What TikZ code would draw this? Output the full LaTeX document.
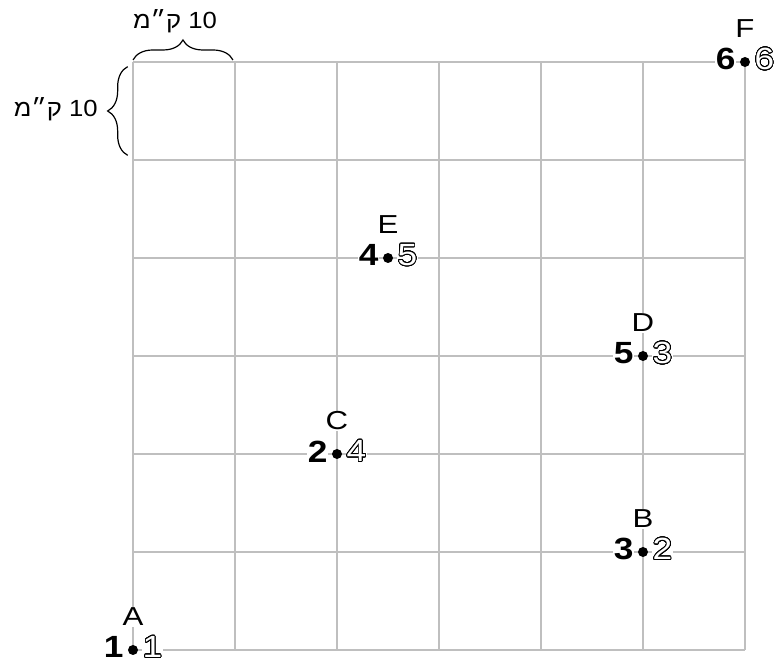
\documentclass[tikz,border=0pt]{standalone}
\usepackage{fontspec}
\setmainfont{Liberation Sans}
\newfontfamily\wideletters[FakeStretch=1.2]{Liberation Sans}
\newfontfamily\widedigits[FakeStretch=1.15]{Liberation Sans}
\newfontfamily\hebfont[Script=Hebrew,FakeStretch=1.1]{Liberation Sans}
\TeXXeTstate=1
\usepackage{contour}
\contourlength{0.6pt}
\contournumber{32}
\usepackage{tikz}
\usetikzlibrary{decorations.pathreplacing,positioning}

\begin{document}
\begin{tikzpicture}[x=76.5pt, y=73.5pt,
  gridline/.style={gray!50, line width=1.4pt},
  curly/.style={decorate, decoration={brace, amplitude=15pt}, line width=0.9pt},
  ptdot/.style={circle, fill=black, inner sep=0pt, minimum size=7.5pt},
  ptname/.style={font=\fontsize{19.5}{22}\wideletters, fill=white, inner sep=0.5pt},
  ordbold/.style={font=\fontsize{23}{26}\widedigits\bfseries, fill=white, inner sep=0.5pt, anchor=east},
  ordhollow/.style={font=\fontsize{23}{26}\widedigits, fill=white, inner sep=0.5pt, anchor=west},
  distlabel/.style={font=\fontsize{17.5}{20}\hebfont, inner sep=0pt}]
  \useasboundingbox (-99.75pt,-6.75pt) rectangle (482.25pt,487.5pt);
  % grid, 10 km per cell
  \draw[gridline, step={(1,1)}] (0,0) grid (6,6);
  % scale braces
  \coordinate (topl) at ([yshift=1.5pt]0,6);
  \coordinate (topr) at ([yshift=1.5pt]0.98,6);
  \coordinate (sidelo) at ([xshift=-4pt,yshift=3.5pt]0,5);
  \coordinate (sidehi) at ([xshift=-4pt,yshift=-3.5pt]0,6);
  \draw[curly] (topl) -- (topr);
  \draw[curly] (sidelo) -- (sidehi);
  \node[distlabel] (kmtop) at (0.412,6.418) {\beginR\beginL10\endL{} ק״מ\endR};
  \node[distlabel, anchor=east] (kmside) at (-0.343,5.52) {\beginR\beginL10\endL{} ק״מ\endR};
  % points: name / x / y / visit order / given order
  \foreach \pname/\px/\py/\ordA/\ordB in {A/0/0/1/1, B/5/1/3/2, C/2/2/2/4, D/5/3/5/3, E/2.5/4/4/5, F/6/6/6/6} {
    \coordinate (p\pname) at (\px,\py);
    \node[ptname] (n\pname) at ([yshift=24.75pt]p\pname) {\pname};
    \node[ordbold] (b\pname) at ([xshift=-6.5pt,yshift=2pt]p\pname) {\ordA};
    \node[ordhollow] (h\pname) at ([xshift=6.5pt,yshift=2pt]p\pname) {{\color{white}\contour{black}{\ordB}}};
    \node[ptdot] (d\pname) at (p\pname) {};
  }
\end{tikzpicture}
\end{document}
